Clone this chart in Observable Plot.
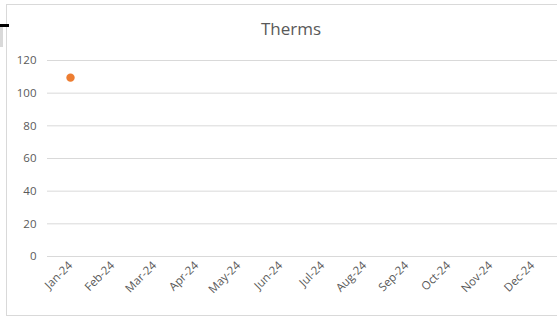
<!DOCTYPE html>
<html><head><meta charset="utf-8">
<script src="https://cdn.jsdelivr.net/npm/d3@7"></script>
<script src="https://cdn.jsdelivr.net/npm/@observablehq/plot@0.6"></script>
<style>
html,body{margin:0;padding:0;background:#fff;width:557px;height:316px;overflow:hidden;font-family:"Open Sans",sans-serif;}
#frame{position:absolute;left:6px;top:4px;width:600px;height:310px;border:1px solid #d9d9d9;box-sizing:content-box;}
#title{position:absolute;left:0;width:582px;top:17px;text-align:center;font-size:17px;color:#595959;}
#chart{position:absolute;left:0;top:0;}
#m1{position:absolute;left:0;top:24px;width:9px;height:3px;background:#000;}
#m2{position:absolute;left:0;top:27px;width:3px;height:20px;background:#d9d9d9;}
</style></head>
<body>
<div id="frame"></div>
<div id="m1"></div><div id="m2"></div>
<div id="title">Therms</div>
<div id="chart"></div>
<script>
const months = ["Jan-24","Feb-24","Mar-24","Apr-24","May-24","Jun-24","Jul-24","Aug-24","Sep-24","Oct-24","Nov-24","Dec-24"];
const therms = [109.5, null, null, null, null, null, null, null, null, null, null, null];
const yTicks = [0, 20, 40, 60, 80, 100, 120];

const data = months.map((m, i) => ({month: m, value: therms[i]}));

const plot = Plot.plot({
  width: 557,
  height: 316,
  marginLeft: 48,
  marginRight: 3,
  marginTop: 60,
  marginBottom: 60,
  style: {fontFamily: "Open Sans, sans-serif", background: "transparent", color: "#595959"},
  x: {type: "band", domain: months, padding: 0, label: null},
  y: {domain: [0, 120], label: null},
  marks: [
    Plot.ruleY(yTicks, {insetLeft: -1, insetRight: -3, stroke: "#d9d9d9", strokeWidth: 1}),
    Plot.axisY({ticks: yTicks, tickSize: 0, tickPadding: 12, fontSize: 11.5, fill: "#595959", label: null}),
    Plot.axisX({tickSize: 0, tickPadding: 7, tickRotate: -45, fontSize: 11.5, fill: "#595959", label: null}),
    Plot.dot(data.filter(d => d.value != null), {x: "month", y: "value", r: 4.2, fill: "#ED7D31", stroke: "none"})
  ]
});
document.getElementById("chart").appendChild(plot);
</script>
</body></html>
